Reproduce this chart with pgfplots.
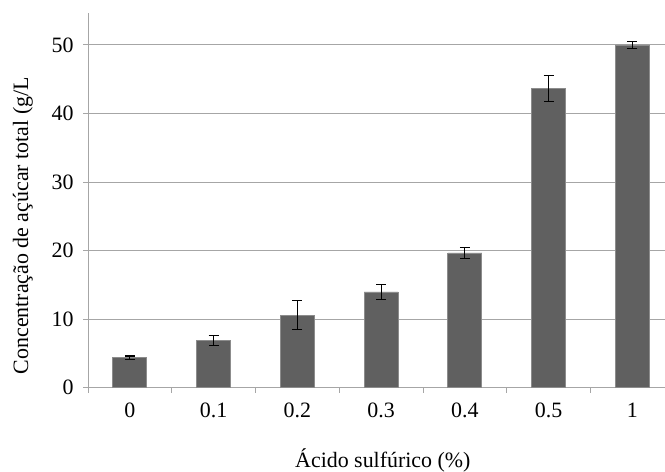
\documentclass[border=0pt]{standalone}
\usepackage{fontspec}
\setmainfont{Liberation Serif}
\usepackage{pgfplots}
\pgfplotsset{compat=1.18}
\definecolor{barc}{HTML}{606060}
\definecolor{baredge}{HTML}{8C8C8C}
\definecolor{gridc}{HTML}{A6A6A6}
\begin{document}
\begin{tikzpicture}[x=1bp,y=1bp]
\useasboundingbox (0,0) rectangle (665,472);
\begin{axis}[
  at={(88bp,84.3bp)}, anchor=south west,
  scale only axis, width=577bp, height=375bp,
  xmin=-0.5, xmax=6.39, ymin=0, ymax=54.7,
  axis x line*=bottom, axis y line*=left,
  axis line style={color=gridc, line width=0.9bp},
  tick align=outside,
  xtick={-0.5,0.5,1.5,2.5,3.5,4.5,5.5},
  xticklabels={},
  extra x ticks={0,1,2,3,4,5,6},
  extra x tick labels={0,0.1,0.2,0.3,0.4,0.5,1},
  extra x tick style={major tick length=0pt},
  ytick={0,10,20,30,40,50},
  ymajorgrids,
  grid style={color=gridc, line width=0.9bp},
  major tick length=5bp,
  tick style={color=gridc, line width=0.9bp},
  ticklabel style={font=\fontsize{22}{26}\selectfont, text=black},
  /pgf/number format/assume math mode=true,
  xticklabel style={yshift=-12bp},
  yticklabel style={xshift=-6bp},
  xlabel={Ácido sulfúrico (\%)},
  xlabel style={at={(axis description cs:0.511,-0.214)}, anchor=base, font=\fontsize{22}{26}\selectfont},
  ylabel={Concentração de açúcar total (g/L},
  ylabel style={at={(axis description cs:-0.113,0.432)}, anchor=center, font=\fontsize{22}{26}\selectfont},
  clip=false,
]
\addplot[ybar, bar width=34bp, fill=barc, draw=baredge, line width=0.8bp,
  error bars/.cd, y dir=both, y explicit,
  error bar style={color=black, line width=1.1bp},
  error mark options={rotate=90, mark size=5bp, line width=1.1bp, color=black}]
  table[x=x, y=y, y error=e] {
x y e
0 4.38 0.25
1 6.92 0.73
2 10.57 2.1
3 13.97 1.1
4 19.66 0.85
5 43.65 1.9
6 50.0 0.5
};
\end{axis}
\end{tikzpicture}
\end{document}
